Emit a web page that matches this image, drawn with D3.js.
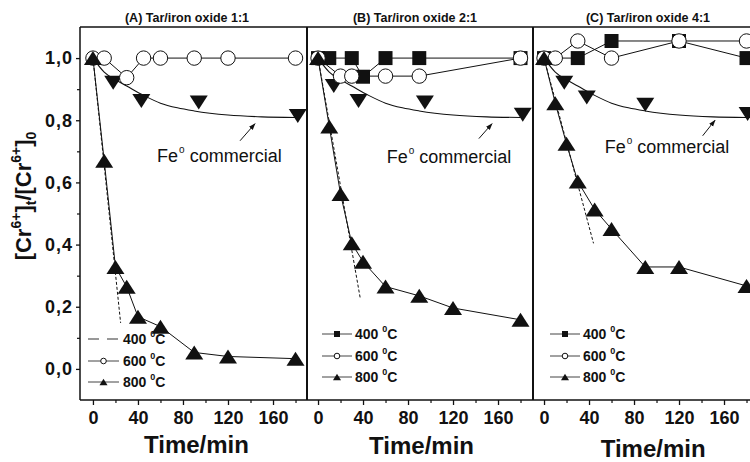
<!DOCTYPE html>
<html>
<head>
<meta charset="utf-8">
<script src="https://cdn.jsdelivr.net/npm/d3@7/dist/d3.min.js"></script>
<style>
  body { margin: 0; background: #fff; }
  svg { display: block; }
  text { font-family: Arial, "Liberation Sans", Helvetica, sans-serif; fill: #111; }
</style>
</head>
<body>
<svg id="chart" width="750" height="462"></svg>
<script>
// Cr(VI) removal by tar / iron oxide composites prepared at 400, 600 and 800 °C,
// compared with commercial Fe0.

const panelTitles = ["(A) Tar/iron oxide 1:1", "(B) Tar/iron oxide 2:1", "(C) Tar/iron oxide 4:1"];
const xTicks = [0, 40, 80, 120, 160];
const xMinorTicks = [20, 60, 100, 140, 180];
const yTicks = [0, 0.2, 0.4, 0.6, 0.8, 1.0];
const yTickLabels = ["0,0", "0,2", "0,4", "0,6", "0,8", "1,0"];
const yMinorTicks = [0.1, 0.3, 0.5, 0.7, 0.9];
const legendTemps = ["400", "600", "800"];
const xAxisTitle = "Time/min";
const feLabel = "Fe";

// Panel A (1:1)
const timeA600 = [0, 10, 30, 45, 60, 90, 120, 180];
const ratioA600 = [1.0, 1.0, 0.937, 1.0, 1.0, 1.0, 1.0, 1.0];
const timeA800 = [0, 10, 20, 30, 40, 60, 90, 120, 180];
const ratioA800 = [1.0, 0.67, 0.328, 0.264, 0.168, 0.136, 0.053, 0.04, 0.033];
const timeAFe = [18, 43, 94, 182];
const ratioAFe = [0.921, 0.862, 0.857, 0.814];
const initTimeA = [0, 24.6];
const initRatioA = [1.0, 0.148];

// Panel B (2:1)
const timeB400 = [0, 10, 30, 40, 60, 90, 180];
const ratioB400 = [1.0, 1.0, 1.0, 0.94, 1.0, 1.0, 1.0];
const timeB600 = [0, 20, 30, 60, 90, 180];
const ratioB600 = [1.0, 0.942, 0.942, 0.942, 0.942, 1.0];
const timeB800 = [0, 10, 20, 30, 40, 60, 90, 120, 180];
const ratioB800 = [1.0, 0.78, 0.563, 0.404, 0.345, 0.265, 0.235, 0.196, 0.158];
const timeBFe = [14, 36, 95, 182];
const ratioBFe = [0.91, 0.862, 0.857, 0.818];
const initTimeB = [0, 37.5];
const initRatioB = [1.0, 0.228];

// Panel C (4:1)
const timeC400 = [0, 30, 60, 120, 180];
const ratioC400 = [1.0, 1.0, 1.055, 1.055, 1.0];
const timeC600 = [0, 10, 30, 60, 120, 180];
const ratioC600 = [1.0, 1.0, 1.055, 1.0, 1.055, 1.055];
const timeC800 = [0, 10, 20, 30, 45, 60, 90, 120, 180];
const ratioC800 = [1.0, 0.855, 0.724, 0.603, 0.513, 0.45, 0.328, 0.328, 0.267];
const timeCFe = [18, 38, 90, 181];
const ratioCFe = [0.921, 0.873, 0.85, 0.82];
const initTimeC = [0, 44];
const initRatioC = [1.0, 0.404];

// Smoothed trend through the commercial Fe0 points
const feTrendTime = [0, 10, 20, 30, 45, 60, 75, 90, 120, 150, 180];
const feTrendRatio = [1.0, 0.955, 0.93, 0.91, 0.88, 0.855, 0.84, 0.83, 0.817, 0.811, 0.809];

const zip = (t, v) => t.map((d, i) => ({ t: d, v: v[i] }));

const panels = [
  {
    title: panelTitles[0], range: [80, 307], domain: [-11.5, 190.2], titleX: 187,
    axisTitleT: 92, axisTitleY: 453, yAxis: true,
    s400: null, s600: zip(timeA600, ratioA600), s800: zip(timeA800, ratioA800),
    fe: zip(timeAFe, ratioAFe), init: zip(initTimeA, initRatioA),
    note: { t: 57, v: 0.665, arrow: [[130.7, 0.734], [144, 0.789]] },
    legend: { x0: 88, x1: 119, tx: 123, rows: [339, 361, 382], dashed400: true }
  },
  {
    title: panelTitles[1], range: [307, 533], domain: [-9.8, 191.1], titleX: 415,
    axisTitleT: 92, axisTitleY: 454, yAxis: false,
    s400: zip(timeB400, ratioB400), s600: zip(timeB600, ratioB600), s800: zip(timeB800, ratioB800),
    fe: zip(timeBFe, ratioBFe), init: zip(initTimeB, initRatioB),
    note: { t: 61, v: 0.664, arrow: [[143, 0.741], [154.7, 0.789]] },
    legend: { x0: 322, x1: 352, tx: 355, rows: [334, 356, 377], dashed400: false }
  },
  {
    title: panelTitles[2], range: [533, 759], domain: [-9.8, 191.1], titleX: 648,
    axisTitleT: 97, axisTitleY: 457, yAxis: false,
    s400: zip(timeC400, ratioC400), s600: zip(timeC600, ratioC600), s800: zip(timeC800, ratioC800),
    fe: zip(timeCFe, ratioCFe), init: zip(initTimeC, initRatioC),
    note: { t: 54, v: 0.696, arrow: [[141, 0.75], [152, 0.80]] },
    legend: { x0: 550, x1: 580, tx: 583, rows: [334, 356, 377], dashed400: false }
  }
];

const svg = d3.select("#chart");
const y = d3.scaleLinear().domain([-0.1, 1.1]).range([400, 27]);

// marker shapes
const triUp = (w, h) => `M0,${-h / 2}L${w / 2},${h / 2}L${-w / 2},${h / 2}Z`;
const triDown = (w, h) => `M0,${h / 2}L${w / 2},${-h / 2}L${-w / 2},${-h / 2}Z`;
const square = s => `M${-s / 2},${-s / 2}h${s}v${s}h${-s}Z`;

svg.append("defs").append("marker")
  .attr("id", "arrowHead").attr("viewBox", "0 0 10 10")
  .attr("refX", 9).attr("refY", 5)
  .attr("markerWidth", 7).attr("markerHeight", 7)
  .attr("orient", "auto")
  .append("path").attr("d", "M0,1.5L10,5L0,8.5Z").attr("fill", "#111");

panels.forEach(p => {
  const x = d3.scaleLinear().domain(p.domain).range(p.range);
  const g = svg.append("g");
  const line = d3.line().x(d => x(d.t)).y(d => y(d.v));

  // title
  g.append("text").attr("x", p.titleX).attr("y", 22)
    .attr("text-anchor", "middle").attr("font-size", 12.5).attr("font-weight", "bold")
    .text(p.title);

  // x axis: major and minor ticks
  const xAxis = g.append("g").attr("transform", "translate(0,400)")
    .call(d3.axisBottom(x).tickValues(xTicks).tickSize(5).tickPadding(6).tickFormat(d3.format("d")));
  xAxis.select(".domain").remove();
  xAxis.selectAll("line").attr("stroke", "#111").attr("stroke-width", 1.3);
  xAxis.selectAll("text").attr("font-size", 18).attr("font-weight", "bold")
    .attr("font-family", "Arial, 'Liberation Sans', sans-serif").attr("fill", "#111");
  const xMinor = g.append("g").attr("transform", "translate(0,400)")
    .call(d3.axisBottom(x).tickValues(xMinorTicks).tickSize(3).tickFormat(""));
  xMinor.select(".domain").remove();
  xMinor.selectAll("line").attr("stroke", "#111").attr("stroke-width", 1.2);

  // x axis title
  g.append("text").attr("x", x(p.axisTitleT)).attr("y", p.axisTitleY)
    .attr("text-anchor", "middle").attr("font-size", 24).attr("font-weight", "bold")
    .text(xAxisTitle);

  if (p.yAxis) {
    const yAxis = g.append("g").attr("transform", `translate(${p.range[0]},0)`)
      .call(d3.axisLeft(y).tickValues(yTicks).tickSize(4).tickPadding(3)
        .tickFormat(d => yTickLabels[yTicks.indexOf(d)]));
    yAxis.select(".domain").remove();
    yAxis.selectAll("line").attr("stroke", "#111").attr("stroke-width", 1.3);
    yAxis.selectAll("text").attr("font-size", 18).attr("font-weight", "bold")
      .attr("letter-spacing", 1).attr("fill", "#111")
      .attr("font-family", "Arial, 'Liberation Sans', sans-serif");
    const yMinor = g.append("g").attr("transform", `translate(${p.range[0]},0)`)
      .call(d3.axisLeft(y).tickValues(yMinorTicks).tickSize(3).tickFormat(""));
    yMinor.select(".domain").remove();
    yMinor.selectAll("line").attr("stroke", "#111").attr("stroke-width", 1.2);
  }

  // frame
  const [x0, x1] = p.range;
  g.append("line").attr("x1", x0).attr("x2", x1).attr("y1", y(1.1)).attr("y2", y(1.1))
    .attr("stroke", "#111").attr("stroke-width", 1.3);
  g.append("line").attr("x1", x0).attr("x2", x1).attr("y1", y(-0.1)).attr("y2", y(-0.1))
    .attr("stroke", "#111").attr("stroke-width", 1.5);
  g.append("line").attr("x1", x0).attr("x2", x0).attr("y1", y(1.1)).attr("y2", y(-0.1))
    .attr("stroke", "#111").attr("stroke-width", p.yAxis ? 1.5 : 2);
  g.append("line").attr("x1", x1).attr("x2", x1).attr("y1", y(1.1)).attr("y2", y(-0.1))
    .attr("stroke", "#111").attr("stroke-width", 2);

  // commercial Fe0 trend
  g.append("path").datum(zip(feTrendTime, feTrendRatio))
    .attr("d", line.curve(d3.curveMonotoneX)).attr("fill", "none")
    .attr("stroke", "#111").attr("stroke-width", 1.1);
  line.curve(d3.curveLinear);

  // initial-rate extrapolation
  g.append("path").datum(p.init).attr("d", line).attr("fill", "none")
    .attr("stroke", "#111").attr("stroke-width", 1).attr("stroke-dasharray", "3,2");

  // series connecting lines
  [p.s400, p.s600, p.s800].forEach(s => {
    if (!s) return;
    g.append("path").datum(s).attr("d", line).attr("fill", "none")
      .attr("stroke", "#111").attr("stroke-width", 1);
  });

  // Fe0 markers
  g.selectAll(null).data(p.fe).join("path")
    .attr("transform", d => `translate(${x(d.t)},${y(d.v)})`)
    .attr("d", triDown(18, 14)).attr("fill", "#111");

  if (p.s400) {
    g.selectAll(null).data(p.s400).join("path")
      .attr("transform", d => `translate(${x(d.t)},${y(d.v)})`)
      .attr("d", square(14)).attr("fill", "#111");
  }
  g.selectAll(null).data(p.s600).join("circle")
    .attr("cx", d => x(d.t)).attr("cy", d => y(d.v)).attr("r", 7.2)
    .attr("fill", "#fff").attr("stroke", "#111").attr("stroke-width", 1);
  g.selectAll(null).data(p.s800).join("path")
    .attr("transform", d => `translate(${x(d.t)},${y(d.v)})`)
    .attr("d", triUp(18, 14)).attr("fill", "#111");

  // annotation
  const note = g.append("text").attr("x", x(p.note.t)).attr("y", y(p.note.v))
    .attr("font-size", 18);
  note.append("tspan").text(feLabel);
  note.append("tspan").attr("font-size", 10).attr("dy", -9).attr("dx", 1).text("o");
  note.append("tspan").attr("dy", 9).text(" commercial");
  const [a0, a1] = p.note.arrow;
  g.append("line")
    .attr("x1", x(a0[0])).attr("y1", y(a0[1])).attr("x2", x(a1[0])).attr("y2", y(a1[1]))
    .attr("stroke", "#111").attr("stroke-width", 1).attr("marker-end", "url(#arrowHead)");

  // legend
  const L = p.legend;
  const mid = (L.x0 + L.x1) / 2;
  legendTemps.forEach((temp, i) => {
    const ry = L.rows[i];
    const row = g.append("g");
    if (i === 0 && L.dashed400) {
      row.append("line").attr("x1", L.x0).attr("x2", L.x1).attr("y1", ry).attr("y2", ry)
        .attr("stroke", "#777").attr("stroke-width", 1.3).attr("stroke-dasharray", "11,8");
    } else {
      row.append("line").attr("x1", L.x0).attr("x2", L.x1).attr("y1", ry).attr("y2", ry)
        .attr("stroke", "#444").attr("stroke-width", 1);
      if (i === 0) {
        row.append("path").attr("transform", `translate(${mid},${ry})`).attr("d", square(6)).attr("fill", "#111");
      } else if (i === 1) {
        row.append("circle").attr("cx", mid).attr("cy", ry).attr("r", 2.8)
          .attr("fill", "#fff").attr("stroke", "#111").attr("stroke-width", 1);
      } else {
        row.append("path").attr("transform", `translate(${mid},${ry})`).attr("d", triUp(8, 6.5)).attr("fill", "#111");
      }
    }
    const t = row.append("text").attr("x", L.tx).attr("y", ry + 5)
      .attr("font-size", 14).attr("font-weight", "bold");
    t.append("tspan").text(temp + " ");
    t.append("tspan").attr("font-size", 9).attr("dy", -7).text("0");
    t.append("tspan").attr("dy", 7).text("C");
  });
});

// shared y axis title
const yl = svg.append("text")
  .attr("transform", "translate(31,196) rotate(-90)")
  .attr("text-anchor", "middle").attr("font-size", 22).attr("font-weight", "bold");
yl.append("tspan").text("[Cr");
yl.append("tspan").attr("font-size", 14).attr("dy", -10).text("6+");
yl.append("tspan").attr("dy", 10).text("]");
yl.append("tspan").attr("font-size", 14).attr("dy", 5).text("t");
yl.append("tspan").attr("dy", -5).text("/[Cr");
yl.append("tspan").attr("font-size", 14).attr("dy", -10).text("6+");
yl.append("tspan").attr("dy", 10).text("]");
yl.append("tspan").attr("font-size", 14).attr("dy", 5).text("0");
</script>
</body>
</html>
